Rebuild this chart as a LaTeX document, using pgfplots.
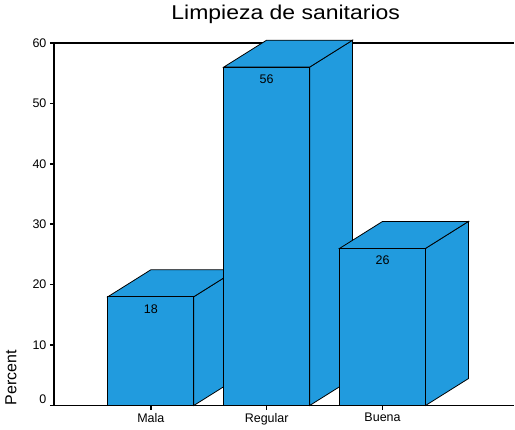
\documentclass[border=0pt]{standalone}
\usepackage{fontspec}
\setmainfont{Liberation Sans}
\newfontfamily\titlefont[FakeStretch=1.15]{Liberation Sans}
\usepackage{pgfplots}
\pgfplotsset{compat=1.18}
\definecolor{barblue}{RGB}{33,155,222}
\begin{document}
\begin{tikzpicture}
\begin{axis}[
  scale only axis,
  width=461pt, height=363pt,
  xmin=-0.836, xmax=3.138,
  ymin=0, ymax=60,
  clip=false,
  axis x line*=box,
  axis y line*=left,
  axis line style={line width=1.2pt},
  xtick={0,1,2},
  xticklabels={Mala,Regular,Buena},
  ytick={10,20,30,40,50,60},
  extra y ticks={0},
  extra y tick style={yticklabel style={yshift=6pt}},
  xtick pos=left, ytick pos=left,
  tick align=outside,
  major tick length=4pt,
  tick style={line width=1.6pt, black},
  /pgf/number format/assume math mode=true,
  tick label style={font=\fontsize{12.5}{14}\selectfont},
  title={Limpieza de sanitarios},
  title style={at={(axis description cs:0.5,1)}, anchor=base, yshift=17pt, xshift=1.5pt, font=\titlefont\fontsize{20}{24}\selectfont},
  ylabel={Percent},
  every axis y label/.style={at={(axis description cs:-0.0933,0)}, rotate=90, anchor=west, inner sep=0pt, font=\fontsize{16}{18}\selectfont},
  every node near coord/.append style={anchor=north, yshift=-4pt, text=black, font=\fontsize{12.5}{14}\selectfont},
]
% side and top faces
\addplot[fill=barblue, draw=black, line width=0.8pt] coordinates {(0.3707,0) (0.7414,4.46) (0.7414,22.46) (0.3707,18)} -- cycle;
\addplot[fill=barblue, draw=black, line width=0.8pt] coordinates {(-0.3707,18) (0,22.46) (0.7414,22.46) (0.3707,18)} -- cycle;
\addplot[fill=barblue, draw=black, line width=0.8pt] coordinates {(1.3707,0) (1.7414,4.46) (1.7414,60.46) (1.3707,56)} -- cycle;
\addplot[fill=barblue, draw=black, line width=0.8pt] coordinates {(0.6293,56) (1,60.46) (1.7414,60.46) (1.3707,56)} -- cycle;
\addplot[fill=barblue, draw=black, line width=0.8pt] coordinates {(2.3707,0) (2.7414,4.46) (2.7414,30.46) (2.3707,26)} -- cycle;
\addplot[fill=barblue, draw=black, line width=0.8pt] coordinates {(1.6293,26) (2,30.46) (2.7414,30.46) (2.3707,26)} -- cycle;
% front faces
\addplot[ybar, bar width=86pt, fill=barblue, draw=black, line width=0.8pt,
  nodes near coords, point meta=y] coordinates {(0,18) (1,56) (2,26)};
\path (rel axis cs:0,0) ++(-54pt,-24pt) rectangle ++(515pt,430pt);
\end{axis}
\end{tikzpicture}
\end{document}
